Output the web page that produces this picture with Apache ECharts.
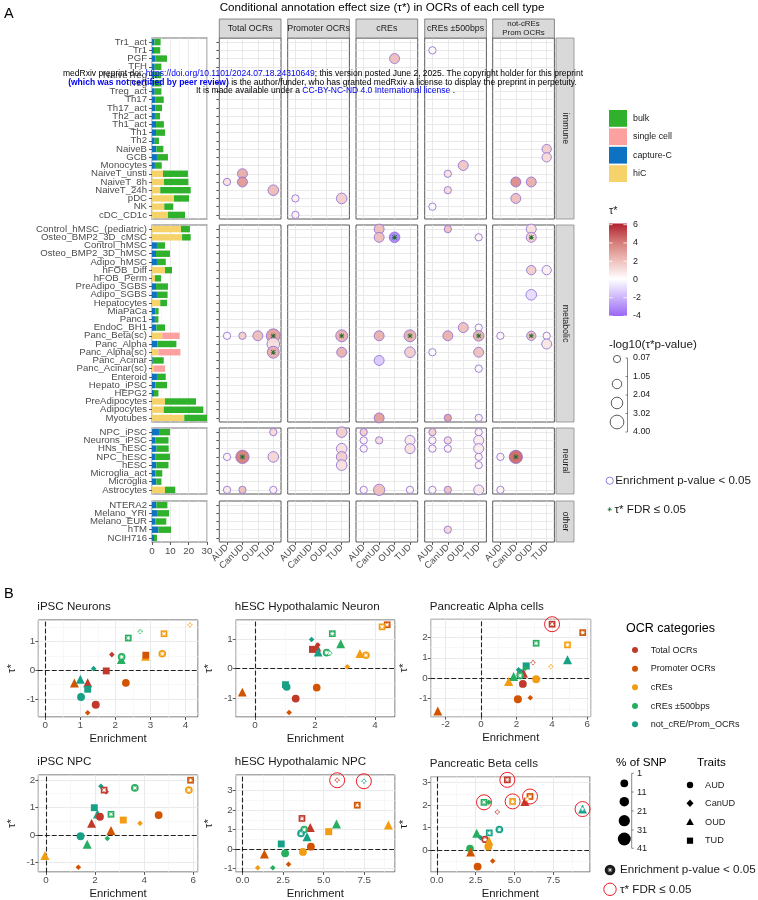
<!DOCTYPE html>
<html lang="en">
<head>
<meta charset="UTF-8">
<title>Conditional annotation effect size in OCRs</title>
<script src="https://cdn.jsdelivr.net/npm/echarts@6/dist/echarts.min.js"></script>
<style>
  html, body { margin: 0; padding: 0; background: #fff; }
  #main { width: 758px; height: 900px; }
</style>
</head>
<body>
<div id="main"></div>
<script>
var FONT = '"Liberation Sans", Arial, Helvetica, sans-serif';
var traits = ['AUD', 'CanUD', 'OUD', 'TUD'];

// ---- panel A: cell types, one list per facet ----
var immuneCells = ['Tr1_act', 'Tr1', 'PGF', 'TFH', 'NaiveTreg', 'Treg', 'Treg_act', 'Th17', 'Th17_act',
  'Th2_act', 'Th1_act', 'Th1', 'Th2', 'NaiveB', 'GCB', 'Monocytes', 'NaiveT_unsti', 'NaiveT_8h',
  'NaiveT_24h', 'pDC', 'NK', 'cDC_CD1c'];
var metabolicCells = ['Control_hMSC_(pediatric)', 'Osteo_BMP2_3D_cMSC', 'Control_hMSC', 'Osteo_BMP2_3D_hMSC',
  'Adipo_hMSC', 'hFOB_Diff', 'hFOB_Perm', 'PreAdipo_SGBS', 'Adipo_SGBS', 'Hepatocytes', 'MiaPaCa', 'Panc1',
  'EndoC_BH1', 'Panc_Beta(sc)', 'Panc_Alpha', 'Panc_Alpha(sc)', 'Panc_Acinar', 'Panc_Acinar(sc)', 'Enteroid',
  'Hepato_iPSC', 'HEPG2', 'PreAdipocytes', 'Adipocytes', 'Myotubes'];
var neuralCells = ['NPC_iPSC', 'Neurons_iPSC', 'HNs_hESC', 'NPC_hESC', 'hESC', 'Microglia_act', 'Microglia', 'Astrocytes'];
var otherCells = ['NTERA2', 'Melano_YRI', 'Melano_EUR', 'hTM', 'NCIH716'];

// bar lengths per data source, same row order as the lists above (immune / metabolic / neural / other)
var hicLen = [0, 0, 0, 0, 0, 0, 0, 0, 0, 0, 0, 0, 0, 0, 0, 0, 6.0, 6.5, 4.5, 12.0, 6.7, 8.7,
  15.8, 16.4, 0, 0, 0, 7.1, 1.6, 0, 0, 4.5, 0, 0, 0, 5.6, 0, 3.5, 0, 0.9, 0, 0, 0, 7.1, 6.4, 17.6,
  0, 0, 0, 0, 0, 0, 0, 7.1,
  0, 0, 0, 0, 0];
var captureLen = [1.3, 1.1, 1.8, 1.5, 1.2, 1.3, 1.5, 2.0, 1.8, 1.6, 2.2, 2.2, 1.5, 2.4, 2.7, 1.6, 0, 0, 0, 0, 0, 0,
  0, 0, 2.7, 2.2, 2.7, 0, 0, 2.2, 2.7, 0, 1.8, 1.6, 2.4, 0, 2.9, 0, 0.4, 0, 2.7, 1.8, 1.1, 0, 0, 0,
  3.8, 2.0, 2.5, 2.0, 2.4, 1.8, 2.4, 0,
  2.4, 2.7, 1.8, 3.5, 1.1];
var singleLen = [0, 0, 0, 0, 0, 0, 0, 0, 0, 0, 0, 0, 0, 0, 0, 0, 0, 0, 0, 0, 0, 0,
  0, 0, 0, 0, 0, 0, 0, 0, 0, 0, 0, 0, 0, 9.5, 0, 12.0, 0, 6.2, 0, 0, 0, 0, 0, 0,
  0, 0, 0, 0, 0, 0, 0, 0,
  0, 0, 0, 0, 0];
var bulkLen = [3.4, 3.4, 6.4, 3.6, 3.8, 3.8, 3.6, 4.4, 3.7, 2.8, 4.3, 4.9, 2.3, 3.8, 6.0, 3.7, 13.6, 13.3, 16.6, 8.2, 4.9, 9.3,
  4.9, 4.7, 4.4, 7.6, 4.8, 3.8, 3.3, 6.5, 5.8, 3.7, 1.8, 1.9, 4.7, 0, 10.4, 0, 6.0, 0, 4.8, 6.4, 2.4, 16.9, 21.6, 12.4,
  6.0, 7.0, 6.6, 7.8, 6.6, 3.8, 2.7, 5.6,
  6.0, 6.6, 6.0, 6.9, 1.6];

// bubbles: [trait, cell type, tau*, -log10(tau* p), FDR<=0.05]
var bubTotal = [
  ['AUD', 'NaiveT_8h', 1.0, 0.6, 0], ['CanUD', 'NaiveT_unsti', 2.6, 1.8, 0], ['CanUD', 'NaiveT_8h', 3.2, 1.8, 0],
  ['TUD', 'NaiveT_24h', 2.2, 2.1, 0], ['AUD', 'Panc_Beta(sc)', 0.3, 0.6, 0], ['CanUD', 'Panc_Beta(sc)', 1.6, 0.6, 0],
  ['OUD', 'Panc_Beta(sc)', 2.1, 1.8, 0], ['TUD', 'Panc_Beta(sc)', 3.0, 3.6, 1], ['TUD', 'Panc_Alpha', 1.0, 3.0, 0],
  ['TUD', 'Panc_Alpha(sc)', 2.6, 2.7, 1], ['TUD', 'NPC_iPSC', 1.2, 0.6, 0], ['AUD', 'NPC_hESC', 0.4, 0.6, 0],
  ['CanUD', 'NPC_hESC', 4.0, 3.3, 1], ['TUD', 'NPC_hESC', 1.3, 2.1, 0], ['AUD', 'Astrocytes', 0.7, 0.6, 0],
  ['CanUD', 'Astrocytes', 2.0, 0.6, 0], ['TUD', 'Astrocytes', 0.5, 0.6, 0]
];
var bubPromoter = [
  ['AUD', 'pDC', 0.5, 0.6, 0], ['AUD', 'cDC_CD1c', 0.5, 0.6, 0], ['TUD', 'pDC', 1.6, 2.1, 0],
  ['TUD', 'Panc_Beta(sc)', 2.5, 2.7, 1], ['TUD', 'Panc_Alpha(sc)', 2.5, 1.8, 0], ['TUD', 'NPC_iPSC', 1.6, 2.1, 0],
  ['TUD', 'HNs_hESC', 1.0, 2.1, 0], ['TUD', 'NPC_hESC', 1.6, 2.1, 0], ['TUD', 'hESC', 1.0, 2.1, 0]
];
var bubCREs = [
  ['OUD', 'PGF', 2.1, 1.8, 0], ['CanUD', 'Control_hMSC_(pediatric)', 2.1, 1.8, 0], ['CanUD', 'Osteo_BMP2_3D_cMSC', 2.1, 1.8, 0],
  ['OUD', 'Osteo_BMP2_3D_cMSC', -3.4, 2.1, 1], ['CanUD', 'Panc_Beta(sc)', 2.5, 1.8, 0], ['TUD', 'Panc_Beta(sc)', 2.5, 2.7, 1],
  ['TUD', 'Panc_Alpha(sc)', 1.6, 2.1, 0], ['CanUD', 'Panc_Acinar', -1.5, 1.8, 0], ['CanUD', 'Myotubes', 3.0, 1.8, 0],
  ['AUD', 'NPC_iPSC', 1.6, 0.6, 0], ['AUD', 'Neurons_iPSC', 0.4, 0.6, 0], ['AUD', 'HNs_hESC', 0.4, 0.6, 0],
  ['CanUD', 'Neurons_iPSC', 1.2, 0.6, 0], ['TUD', 'Neurons_iPSC', 0.7, 1.8, 0], ['TUD', 'HNs_hESC', 1.0, 1.8, 0],
  ['AUD', 'Astrocytes', 0.4, 0.6, 0], ['CanUD', 'Astrocytes', 2.1, 2.4, 0], ['TUD', 'Astrocytes', 0.4, 0.6, 0]
];
var bubCREs500 = [
  ['AUD', 'Tr1', 0.3, 0.6, 0], ['OUD', 'Monocytes', 1.8, 1.8, 0], ['CanUD', 'NaiveT_unsti', 1.0, 0.6, 0],
  ['CanUD', 'NaiveT_24h', 1.2, 0.6, 0], ['AUD', 'NK', 0.3, 0.6, 0], ['CanUD', 'Control_hMSC_(pediatric)', 2.0, 0.6, 0],
  ['TUD', 'Osteo_BMP2_3D_cMSC', 0.4, 0.6, 0], ['OUD', 'EndoC_BH1', 2.0, 1.8, 0], ['TUD', 'EndoC_BH1', 0.3, 0.6, 0],
  ['CanUD', 'Panc_Beta(sc)', 2.5, 1.8, 0], ['TUD', 'Panc_Beta(sc)', 2.5, 2.1, 1], ['AUD', 'Panc_Alpha(sc)', 0.2, 0.6, 0],
  ['TUD', 'Panc_Alpha(sc)', 2.0, 1.8, 0], ['TUD', 'Panc_Acinar(sc)', 0.3, 0.6, 0], ['CanUD', 'Myotubes', 3.0, 0.6, 0],
  ['TUD', 'Myotubes', 0.5, 0.6, 0], ['AUD', 'NPC_iPSC', 1.6, 0.6, 0], ['AUD', 'Neurons_iPSC', 0.4, 0.6, 0],
  ['AUD', 'HNs_hESC', 0.4, 0.6, 0], ['CanUD', 'Neurons_iPSC', 1.2, 0.6, 0], ['CanUD', 'HNs_hESC', 0.5, 0.6, 0],
  ['TUD', 'NPC_iPSC', 0.4, 0.6, 0], ['TUD', 'Neurons_iPSC', 0.6, 1.8, 0], ['TUD', 'HNs_hESC', 0.6, 1.8, 0],
  ['TUD', 'NPC_hESC', 0.4, 0.6, 0], ['TUD', 'hESC', 0.4, 0.6, 0], ['AUD', 'Astrocytes', 0.3, 0.6, 0],
  ['CanUD', 'Astrocytes', 2.0, 0.6, 0], ['TUD', 'Astrocytes', 0.7, 1.8, 0], ['CanUD', 'hTM', 1.3, 0.6, 0]
];
var bubNotCRE = [
  ['TUD', 'NaiveB', 1.6, 1.5, 0], ['TUD', 'GCB', 1.2, 1.5, 0], ['CanUD', 'NaiveT_8h', 3.6, 1.8, 0],
  ['OUD', 'NaiveT_8h', 2.6, 1.8, 0], ['CanUD', 'pDC', 2.1, 1.8, 0], ['OUD', 'Control_hMSC_(pediatric)', 1.0, 1.8, 0],
  ['OUD', 'Osteo_BMP2_3D_cMSC', 1.5, 1.8, 1], ['OUD', 'hFOB_Diff', 1.6, 1.5, 0], ['TUD', 'hFOB_Diff', 0.5, 1.5, 0],
  ['OUD', 'Adipo_SGBS', -1.0, 2.1, 0], ['AUD', 'Panc_Beta(sc)', 0.3, 0.6, 0], ['OUD', 'Panc_Beta(sc)', 2.0, 1.5, 1],
  ['TUD', 'Panc_Beta(sc)', 0.3, 0.6, 0], ['TUD', 'Panc_Alpha', 0.8, 1.8, 0], ['AUD', 'NPC_hESC', 0.4, 0.6, 0],
  ['CanUD', 'NPC_hESC', 4.5, 3.3, 1], ['AUD', 'Astrocytes', 0.4, 0.6, 0]
];

// ---- panel B: [OCR category, trait, enrichment, tau*, % of SNP, enrichment p<0.05, tau* FDR<=0.05] ----
var ipscNeurons = [
  ['cre', 'CanUD', 4.13, 1.59, 1, 1, 0], ['cre', 'TUD', 3.39, 1.28, 4, 1, 0], ['cre500', 'CanUD', 2.71, 1.36, 1, 1, 0],
  ['cre500', 'TUD', 2.37, 1.13, 4, 1, 0], ['cre', 'AUD', 3.34, 0.58, 5, 1, 0], ['cre', 'OUD', 2.86, 0.49, 5, 0, 0],
  ['prom', 'TUD', 2.87, 0.53, 5, 0, 0], ['total', 'CanUD', 1.90, 0.55, 1, 0, 0], ['cre500', 'OUD', 2.17, 0.38, 5, 0, 0],
  ['cre500', 'AUD', 2.18, 0.47, 5, 1, 0], ['notcre', 'CanUD', 1.38, 0.06, 1, 0, 0], ['total', 'TUD', 1.74, -0.02, 5, 0, 0],
  ['prom', 'AUD', 2.30, -0.44, 5, 0, 0], ['prom', 'OUD', 0.83, -0.44, 6, 0, 0], ['notcre', 'OUD', 1.00, -0.31, 5, 0, 0],
  ['total', 'OUD', 1.21, -0.43, 6, 0, 0], ['notcre', 'TUD', 1.21, -0.66, 5, 0, 0], ['notcre', 'AUD', 1.02, -0.93, 6, 0, 0],
  ['total', 'AUD', 1.44, -1.20, 7, 0, 0], ['prom', 'CanUD', 1.21, -1.48, 1, 0, 0]
];
var hescNeurons = [
  ['prom', 'TUD', 4.41, 1.48, 4, 1, 0], ['cre', 'TUD', 4.24, 1.41, 4, 1, 0], ['cre500', 'TUD', 2.58, 1.18, 4, 1, 0],
  ['notcre', 'CanUD', 1.89, 0.98, 1, 0, 0], ['cre500', 'OUD', 2.86, 0.84, 5, 0, 0], ['total', 'CanUD', 2.10, 0.80, 1, 0, 0],
  ['total', 'OUD', 2.06, 0.73, 7, 0, 0], ['total', 'TUD', 1.92, 0.65, 6, 0, 0], ['notcre', 'OUD', 2.11, 0.56, 5, 0, 0],
  ['cre500', 'AUD', 2.39, 0.54, 5, 1, 0], ['cre500', 'CanUD', 2.50, 0.52, 1, 1, 0], ['cre', 'OUD', 3.50, 0.51, 5, 0, 0],
  ['cre', 'AUD', 3.70, 0.45, 5, 1, 0], ['cre', 'CanUD', 3.08, 0.06, 1, 0, 0], ['prom', 'OUD', -0.42, -0.79, 5, 0, 0],
  ['notcre', 'TUD', 1.02, -0.54, 5, 0, 0], ['notcre', 'AUD', 1.06, -0.62, 5, 0, 0], ['prom', 'AUD', 2.06, -0.64, 5, 0, 0],
  ['total', 'AUD', 1.36, -1.01, 6, 0, 0], ['prom', 'CanUD', 1.14, -1.48, 1, 0, 0]
];
var pancAlpha = [
  ['total', 'TUD', 4.01, 2.64, 4, 1, 1], ['prom', 'TUD', 5.74, 2.23, 4, 1, 0], ['cre500', 'TUD', 3.11, 1.71, 4, 1, 0],
  ['cre', 'TUD', 4.88, 1.63, 4, 1, 0], ['notcre', 'OUD', 4.88, 0.90, 6, 0, 0], ['total', 'CanUD', 2.93, 0.77, 1, 1, 0],
  ['cre', 'CanUD', 3.94, 0.57, 1, 1, 0], ['notcre', 'TUD', 2.55, 0.60, 6, 0, 0], ['cre500', 'CanUD', 2.50, 0.49, 1, 0, 0],
  ['notcre', 'CanUD', 2.12, 0.41, 1, 0, 0], ['notcre', 'AUD', 2.25, 0.25, 5, 0, 0], ['total', 'OUD', 2.40, 0.24, 6, 0, 0],
  ['cre500', 'AUD', 2.21, 0.13, 5, 1, 0], ['cre500', 'OUD', 1.84, 0.08, 6, 0, 0], ['cre', 'OUD', 1.56, -0.16, 7, 0, 0],
  ['total', 'AUD', 2.36, -0.28, 6, 0, 0], ['cre', 'AUD', 3.11, -0.05, 6, 0, 0], ['prom', 'AUD', 2.08, -1.03, 7, 0, 0],
  ['prom', 'CanUD', 2.78, -0.95, 1, 0, 0], ['prom', 'OUD', -2.44, -1.60, 6, 0, 0]
];
var ipscNPC = [
  ['prom', 'TUD', 5.89, 1.99, 4, 1, 0], ['cre', 'AUD', 5.82, 1.63, 5, 1, 0], ['notcre', 'CanUD', 2.24, 1.77, 1, 0, 0],
  ['total', 'TUD', 2.37, 1.63, 4, 1, 0], ['total', 'CanUD', 2.45, 1.57, 1, 0, 0], ['cre500', 'AUD', 3.62, 1.71, 5, 1, 0],
  ['notcre', 'TUD', 1.97, 0.99, 5, 0, 0], ['notcre', 'OUD', 2.10, 0.76, 6, 0, 0], ['total', 'AUD', 2.20, 0.66, 6, 0, 0],
  ['cre500', 'TUD', 2.65, 0.75, 4, 1, 0], ['cre', 'TUD', 3.15, 0.54, 5, 0, 0], ['prom', 'AUD', 4.59, 0.72, 6, 0, 0],
  ['cre', 'CanUD', 3.83, 0.42, 1, 0, 0], ['total', 'OUD', 1.86, 0.42, 6, 0, 0], ['prom', 'OUD', 2.65, 0.16, 6, 0, 0],
  ['notcre', 'AUD', 1.41, -0.05, 6, 0, 0], ['cre500', 'CanUD', 2.50, -0.13, 1, 0, 0], ['cre500', 'OUD', 1.68, -0.34, 6, 0, 0],
  ['cre', 'OUD', -0.04, -0.75, 6, 0, 0], ['prom', 'CanUD', 1.32, -1.18, 1, 0, 0]
];
var hescNPC = [
  ['total', 'CanUD', 5.83, 3.53, 1, 1, 1], ['notcre', 'CanUD', 7.48, 3.48, 1, 1, 1], ['prom', 'TUD', 7.07, 2.25, 4, 1, 0],
  ['total', 'TUD', 3.66, 1.57, 4, 1, 0], ['cre500', 'OUD', 5.79, 1.28, 6, 0, 0], ['cre', 'OUD', 8.99, 1.23, 6, 0, 0],
  ['total', 'OUD', 4.17, 1.11, 6, 0, 0], ['cre500', 'AUD', 3.80, 1.00, 5, 1, 0], ['notcre', 'AUD', 3.60, 0.80, 5, 1, 0],
  ['notcre', 'OUD', 3.97, 0.63, 6, 0, 0], ['cre', 'TUD', 5.31, 0.89, 6, 0, 0], ['notcre', 'TUD', 2.38, 0.26, 5, 0, 0],
  ['prom', 'AUD', 4.21, 0.12, 6, 0, 0], ['cre', 'AUD', 3.72, -0.15, 6, 0, 0], ['cre500', 'AUD', 2.62, -0.22, 6, 0, 0],
  ['prom', 'OUD', 1.34, -0.26, 6, 0, 0], ['cre', 'CanUD', 0.93, -0.96, 1, 0, 0], ['cre500', 'CanUD', 1.86, -0.96, 1, 0, 0],
  ['prom', 'CanUD', 2.83, -0.78, 1, 0, 0]
];
var pancBeta = [
  ['total', 'TUD', 4.54, 3.12, 4, 1, 1], ['cre', 'TUD', 4.88, 2.16, 4, 1, 1], ['total', 'OUD', 5.67, 2.16, 6, 0, 0],
  ['prom', 'TUD', 6.00, 2.38, 4, 1, 1], ['cre', 'CanUD', 5.82, 2.26, 1, 1, 0], ['cre500', 'CanUD', 3.35, 2.12, 1, 0, 0],
  ['cre500', 'TUD', 3.04, 2.12, 4, 1, 1], ['notcre', 'OUD', 9.38, 1.82, 6, 1, 1], ['total', 'CanUD', 3.90, 1.69, 1, 1, 0],
  ['notcre', 'AUD', 4.03, 0.91, 5, 1, 0], ['notcre', 'TUD', 3.38, 0.76, 4, 1, 0], ['cre500', 'OUD', 2.57, 0.74, 6, 0, 0],
  ['notcre', 'CanUD', 2.83, 0.54, 1, 0, 0], ['total', 'AUD', 3.10, 0.47, 3, 1, 0], ['cre', 'OUD', 3.36, 0.40, 6, 0, 0],
  ['cre', 'AUD', 3.32, 0.15, 6, 0, 0], ['cre500', 'AUD', 2.14, 0.06, 5, 0, 0], ['prom', 'OUD', 2.18, -0.09, 6, 0, 0],
  ['prom', 'AUD', 2.63, -0.74, 6, 0, 0], ['prom', 'CanUD', 3.60, -0.49, 1, 0, 0]
];

var ocrNames = { total: 'Total OCRs', prom: 'Promoter OCRs', cre: 'cREs', cre500: 'cREs \u00b1500bps', notcre: 'not_cRE/Prom_OCRs' };
var ocrColors = { total: '#c0392b', prom: '#d35400', cre: '#f39c12', cre500: '#27ae60', notcre: '#16a085' };
var traitSymbol = { AUD: 'circle', CanUD: 'diamond', OUD: 'triangle', TUD: 'rect' };
var traitScale = { AUD: 1, CanUD: 0.8, OUD: 1.15, TUD: 0.9 };
var tauColors = ['#9a66f5', '#ccb5fa', '#ffffff', '#eebfbb', '#d57b77', '#b2222e']; // -4 .. 6

var ASTERISK = 'path://M4.3,0h1.4v10h-1.4z M0,4.3h10v1.4h-10z M1.2,0.2L9.8,8.8L8.8,9.8L0.2,1.2z M8.8,0.2L9.8,1.2L1.2,9.8L0.2,8.8z';

// ---- layout ----
var facets = [immuneCells, metabolicCells, neuralCells, otherCells];
var facetNames = ['immune', 'metabolic', 'neural', 'other'];
var facetTop = [38, 225, 428, 501];
var facetH = [181, 197, 66, 41];
var barLeft = 152, barW = 55;
var colLeft = [219.3, 287.7, 356, 424.7, 492.7], colW = 61.7;
var columns = ['Total OCRs', 'Promoter OCRs', 'cREs', 'cREs \u00b1500bps', 'not-cREs\nProm OCRs'];
var bubbleSets = [bubTotal, bubPromoter, bubCREs, bubCREs500, bubNotCRE];
var sources = [
  { name: 'hiC', color: '#f6d36a', values: hicLen },
  { name: 'capture-C', color: '#0c72c1', values: captureLen },
  { name: 'single cell', color: '#fda0a0', values: singleLen },
  { name: 'bulk', color: '#2fb12b', values: bulkLen }
];

var grids = [], xAxes = [], yAxes = [], series = [], graphics = [], bubbleIdx = [];

function range(n) { var a = []; for (var i = 0; i < n; i++) a.push(i); return a; }
function isMult(v, step) { var r = v / step; return Math.abs(r - Math.round(r)) < 1e-6; }
function majorsOf(ext, step) {
  var a = [], k0 = Math.ceil(ext[0] / step - 1e-9), k1 = Math.floor(ext[1] / step + 1e-9);
  for (var k = k0; k <= k1; k++) a.push(+(k * step).toFixed(6));
  return a;
}
function addGrid(l, t, w, h, border, bw) {
  grids.push({ left: l, top: t, width: w, height: h, show: true, backgroundColor: '#fff',
    borderColor: border, borderWidth: bw, containLabel: false });
  return grids.length - 1;
}
var GRIDC = '#e3e3e3';

// ---- panel A ----
var rowOffset = 0;
facets.forEach(function (cells, f) {
  var last = f === facets.length - 1;
  var n = cells.length;

  // stacked bars
  var g = addGrid(barLeft, facetTop[f], barW, facetH[f], '#a3a3a3', 1.3);
  xAxes.push({ gridIndex: g, type: 'value', position: 'bottom', min: 0, max: 30, interval: 10,
    axisLine: { show: false, onZero: false },
    axisTick: { show: last, length: 3, lineStyle: { color: '#333', width: 0.8 } },
    axisLabel: { show: last, fontSize: 9.8, color: '#4d4d4d', fontFamily: FONT, margin: 4 },
    splitLine: { show: true, lineStyle: { color: GRIDC, width: 0.8 } },
    minorTick: { show: false, splitNumber: 2 },
    minorSplitLine: { show: true, lineStyle: { color: '#f2f2f2', width: 0.6 } } });
  var bx = xAxes.length - 1;
  yAxes.push({ gridIndex: g, type: 'category', position: 'left', data: cells, inverse: true,
    axisLine: { show: false, onZero: false },
    axisTick: { show: true, alignWithLabel: true, interval: 0, length: 3, lineStyle: { color: '#333', width: 0.8 } },
    axisLabel: { interval: 0, fontSize: 9.6, color: '#4d4d4d', fontFamily: FONT, margin: 5 },
    splitLine: { show: false } });
  var by = yAxes.length - 1;
  sources.forEach(function (s) {
    series.push({ type: 'bar', name: s.name, xAxisIndex: bx, yAxisIndex: by, stack: 'src' + f,
      barWidth: '78%', silent: true, z: 2, itemStyle: { color: s.color },
      data: s.values.slice(rowOffset, rowOffset + n) });
  });

  // bubble panels
  columns.forEach(function (col, c) {
    var g2 = addGrid(colLeft[c], facetTop[f], colW, facetH[f], '#595959', 1);
    xAxes.push({ gridIndex: g2, type: 'value', position: 'bottom', min: -0.5, max: 3.5, splitNumber: 4,
      minInterval: 1, maxInterval: 1,
      axisLine: { show: false, onZero: false },
      axisTick: { show: last, length: 3, customValues: [0, 1, 2, 3], lineStyle: { color: '#333', width: 0.8 } },
      axisLabel: { show: last, customValues: [0, 1, 2, 3], rotate: 45, margin: 4, fontSize: 9.3,
        color: '#4d4d4d', fontFamily: FONT,
        formatter: function (v) { var i = Math.round(v); return Math.abs(v - i) < 1e-6 && traits[i] ? traits[i] : ''; } },
      splitLine: { show: true, lineStyle: { color: GRIDC, width: 0.8 } } });
    var x2 = xAxes.length - 1;
    yAxes.push({ gridIndex: g2, type: 'value', position: 'left', inverse: true, min: -0.5, max: n - 0.5,
      splitNumber: n, minInterval: 1, maxInterval: 1,
      axisLine: { show: false, onZero: false },
      axisTick: { show: c === 0, length: 3, customValues: range(n), lineStyle: { color: '#333', width: 0.8 } },
      axisLabel: { show: false },
      splitLine: { show: true, lineStyle: { color: GRIDC, width: 0.8 } } });
    var y2 = yAxes.length - 1;
    var pts = bubbleSets[c].filter(function (b) { return cells.indexOf(b[1]) >= 0; });
    series.push({ type: 'scatter', xAxisIndex: x2, yAxisIndex: y2, z: 3, silent: true,
      data: pts.map(function (b) { return [traits.indexOf(b[0]), cells.indexOf(b[1]), b[2], b[3]]; }),
      symbolSize: function (v) { return 6 + 2.2 * v[3]; },
      itemStyle: { borderColor: '#8d6fd6', borderWidth: 0.9, opacity: 0.92 } });
    bubbleIdx.push(series.length - 1);
    series.push({ type: 'scatter', xAxisIndex: x2, yAxisIndex: y2, z: 4, silent: true,
      symbol: ASTERISK, symbolSize: 5, itemStyle: { color: '#1d6b34', opacity: 1 },
      data: pts.filter(function (b) { return b[4] === 1; })
        .map(function (b) { return [traits.indexOf(b[0]), cells.indexOf(b[1])]; }) });
  });
  rowOffset += n;
});

// ---- panel B ----
var bPanels = [
  { title: 'iPSC Neurons', pts: ipscNeurons, box: [38.3, 620, 159.7, 97], x: [-0.2, 4.36], xs: 1, dec: 0, y: [-1.63, 1.76] },
  { title: 'hESC Hypothalamic Neuron', pts: hescNeurons, box: [235.7, 620, 159.3, 97], x: [-0.64, 4.67], xs: 2, dec: 0, y: [-1.63, 1.64] },
  { title: 'Pancreatic Alpha cells', pts: pancAlpha, box: [430.7, 619.3, 160, 97.4], x: [-2.84, 6.19], xs: 2, dec: 0, y: [-1.88, 2.88] },
  { title: 'iPSC NPC', pts: ipscNPC, box: [38.3, 775, 159.4, 97.3], x: [-0.31, 6.18], xs: 2, dec: 0, y: [-1.35, 2.18] },
  { title: 'hESC Hypothalamic NPC', pts: hescNPC, box: [235.7, 775, 159.3, 97.3], x: [-0.43, 9.4], xs: 2.5, dec: 1, y: [-1.18, 3.8] },
  { title: 'Pancreatic Beta cells', pts: pancBeta, box: [430.7, 776.7, 159.3, 96.6], x: [-0.39, 9.86], xs: 2.5, dec: 1, y: [-0.98, 3.26] }
];

function bAxes(g, dim, ext, step, dec, name, gap) {
  var list = dim === 'x' ? xAxes : yAxes;
  var pos = dim === 'x' ? 'bottom' : 'left';
  var span = ext[1] - ext[0];
  var majors = majorsOf(ext, step);
  // minor lines (every half step, major lines are drawn over them)
  list.push({ gridIndex: g, type: 'value', position: pos, min: ext[0], max: ext[1],
    splitNumber: Math.round(span / (step / 2)), minInterval: step / 2, maxInterval: step / 2,
    axisLine: { show: false, onZero: false }, axisTick: { show: false }, axisLabel: { show: false },
    splitLine: { show: true, lineStyle: { color: '#f3f3f3', width: 0.6 } } });
  list.push({ gridIndex: g, type: 'value', position: pos, min: ext[0], max: ext[1],
    splitNumber: Math.round(span / step), minInterval: step, maxInterval: step,
    name: name, nameLocation: 'middle', nameGap: gap,
    nameTextStyle: { fontSize: 11.3, color: '#1a1a1a', fontFamily: FONT },
    axisLine: { show: false, onZero: false },
    axisTick: { show: true, length: 3, customValues: majors, lineStyle: { color: '#333', width: 0.8 } },
    axisLabel: { show: true, customValues: majors, fontSize: 9.8, color: '#4d4d4d', fontFamily: FONT, margin: 3,
      formatter: function (v) { return isMult(v, step) ? v.toFixed(dec) : ''; } },
    splitLine: { show: true, lineStyle: { color: '#e6e6e6', width: 0.8 } } });
  var main = list.length - 1;
  // dashed reference line at zero of the other axis
  list.push({ gridIndex: g, type: 'value', position: pos, min: ext[0], max: ext[1], z: 1,
    axisLine: { show: true, onZero: true, lineStyle: { color: '#222', width: 1.1, type: [4, 3] } },
    axisTick: { show: false }, axisLabel: { show: false }, splitLine: { show: false } });
  return main;
}
function ptSize(trait, pct) { return (6.8 + 0.17 * pct) * traitScale[trait]; }

bPanels.forEach(function (p) {
  var g = addGrid(p.box[0], p.box[1], p.box[2], p.box[3], '#595959', 1);
  var xi = bAxes(g, 'x', p.x, p.xs, p.dec, 'Enrichment', 16);
  var yi = bAxes(g, 'y', p.y, 1, 0, '\u03c4*', 21);
  series.push({ type: 'scatter', xAxisIndex: xi, yAxisIndex: yi, z: 3, silent: true,
    data: p.pts.map(function (d) {
      return { value: [d[2], d[3], d[4]], symbol: traitSymbol[d[1]], symbolSize: ptSize(d[1], d[4]),
        itemStyle: { color: ocrColors[d[0]], opacity: 1 } };
    }) });
  series.push({ type: 'scatter', xAxisIndex: xi, yAxisIndex: yi, z: 4, silent: true,
    symbol: ASTERISK, symbolSize: 4.2, itemStyle: { color: '#fff', opacity: 1 },
    data: p.pts.filter(function (d) { return d[5] === 1; }).map(function (d) { return [d[2], d[3]]; }) });
  series.push({ type: 'scatter', xAxisIndex: xi, yAxisIndex: yi, z: 5, silent: true,
    symbol: 'circle', symbolSize: 15,
    itemStyle: { color: 'rgba(0,0,0,0)', borderColor: '#ee1c25', borderWidth: 1, opacity: 1 },
    data: p.pts.filter(function (d) { return d[6] === 1; }).map(function (d) { return [d[2], d[3]]; }) });
  graphics.push(txt(p.box[0] - 1, p.box[1] - 13, p.title, 11.6, {}));
});

// ---- graphic helpers ----
function txt(x, y, s, size, o) {
  var st = { text: s, fontSize: size, fontFamily: FONT, fill: o.fill || '#1a1a1a',
    align: o.align || 'left', verticalAlign: 'middle', textAlign: o.align || 'left', textVerticalAlign: 'middle' };
  if (o.lineHeight) st.lineHeight = o.lineHeight;
  if (o.rich) st.rich = o.rich;
  return { type: 'text', x: x, y: y, rotation: o.rotation || 0, silent: true, z: o.z || 10, style: st };
}
function rect(x, y, w, h, fill, stroke, lw) {
  return { type: 'rect', silent: true, z: 10, shape: { x: x, y: y, width: w, height: h },
    style: { fill: fill, stroke: stroke || null, lineWidth: lw || 0 } };
}
function circ(cx, cy, r, fill, stroke, lw) {
  return { type: 'circle', silent: true, z: 10, shape: { cx: cx, cy: cy, r: r },
    style: { fill: fill, stroke: stroke || null, lineWidth: lw || 0 } };
}
function seg(x1, y1, x2, y2, stroke, lw) {
  return { type: 'line', silent: true, z: 11, shape: { x1: x1, y1: y1, x2: x2, y2: y2 },
    style: { stroke: stroke, lineWidth: lw } };
}
function star(cx, cy, s, color) {
  var a = s / 2, w = s * 0.14, d = a * 0.86;
  return [
    { type: 'rect', silent: true, z: 12, shape: { x: cx - w / 2, y: cy - a, width: w, height: s }, style: { fill: color } },
    { type: 'rect', silent: true, z: 12, shape: { x: cx - a, y: cy - w / 2, width: s, height: w }, style: { fill: color } },
    seg(cx - d * 0.8, cy - d * 0.8, cx + d * 0.8, cy + d * 0.8, color, w),
    seg(cx + d * 0.8, cy - d * 0.8, cx - d * 0.8, cy + d * 0.8, color, w)
  ];
}

// titles and panel letters
graphics.push(txt(382, 7.5, 'Conditional annotation effect size (\u03c4*) in OCRs of each cell type', 11.6, { align: 'center', fill: '#000' }));
graphics.push(txt(4, 14, 'A', 14.5, { fill: '#000' }));
graphics.push(txt(4, 594, 'B', 14.5, { fill: '#000' }));

// column strips
columns.forEach(function (col, c) {
  graphics.push(rect(colLeft[c], 19, colW, 19, '#d9d9d9', '#6e6e6e', 0.8));
  var two = col.indexOf('\n') >= 0;
  graphics.push(txt(colLeft[c] + colW / 2, 28.8, col, two ? 7.9 : 8.8,
    { align: 'center', lineHeight: 9, fill: '#1a1a1a' }));
});
// facet strips
facetNames.forEach(function (nm, f) {
  graphics.push(rect(556, facetTop[f], 18, facetH[f], '#d9d9d9', '#8a8a8a', 0.8));
  graphics.push(txt(565, facetTop[f] + facetH[f] / 2, nm, 8.8, { align: 'center', rotation: -Math.PI / 2 }));
});

// data source legend
['bulk', 'single cell', 'capture-C', 'hiC'].forEach(function (nm, i) {
  var s = sources.filter(function (q) { return q.name === nm; })[0];
  graphics.push(rect(609, 110 + i * 18.4, 18, 16.8, s.color));
  graphics.push(txt(633, 118.4 + i * 18.4, nm, 8.9, {}));
});

// tau* colour bar
graphics.push(txt(609, 211.5, '\u03c4*', 10.8, {}));
graphics.push({ type: 'rect', silent: true, z: 10, shape: { x: 609, y: 223.5, width: 18, height: 92.5 },
  style: { fill: new echarts.graphic.LinearGradient(0, 0, 0, 1, tauColors.slice().reverse().map(function (c, i) {
    return { offset: i / (tauColors.length - 1), color: c };
  })) } });
[6, 4, 2, 0, -2, -4].forEach(function (v) {
  var yy = 224.7 + (6 - v) / 10 * 91.3;
  graphics.push(txt(633, yy, String(v), 8.9, {}));
  graphics.push(seg(609, yy, 612.6, yy, '#fff', 0.8));
  graphics.push(seg(623.4, yy, 627, yy, '#fff', 0.8));
});

// -log10 p size legend
graphics.push(txt(609, 345, '-log10(\u03c4*p-value)', 11.7, {}));
[0.56, 1.55, 2.53, 3.51].forEach(function (v, i) {
  graphics.push(circ(617, [359, 384, 403, 422][i], (6 + 2.2 * v) / 2, 'rgba(0,0,0,0)', '#333', 0.8));
});
graphics.push(seg(627.5, 358, 627.5, 432, '#555', 0.7));
['0.07', '1.05', '2.04', '3.02', '4.00'].forEach(function (s, i) {
  var yy = [358, 376.5, 395, 413.5, 432][i];
  graphics.push(seg(625.5, yy, 627.5, yy, '#555', 0.7));
  graphics.push(txt(633, yy, s, 8.9, {}));
});

// enrichment / FDR keys, panel A
graphics.push(circ(609.7, 480.7, 3.6, '#fff', '#8d6fd6', 0.9));
graphics.push(txt(615.3, 480.7, 'Enrichment p-value < 0.05', 11.6, {}));
star(609.7, 509.3, 4.4, '#1d6b34').forEach(function (e) { graphics.push(e); });
graphics.push(txt(614.5, 509.3, '\u03c4* FDR \u2264 0.05', 11.6, {}));

// OCR categories legend
graphics.push(txt(626, 629, 'OCR categories', 12.5, { fill: '#000' }));
['total', 'prom', 'cre', 'cre500', 'notcre'].forEach(function (k, i) {
  var yy = [650, 668.7, 687.3, 706, 724.3][i];
  graphics.push(circ(635, yy, 3, ocrColors[k]));
  graphics.push(txt(650.7, yy, ocrNames[k], 9.1, {}));
});

// % of SNP legend
graphics.push(txt(616, 762.7, '% of SNP', 11.7, { fill: '#000' }));
[6, 16, 26, 36].forEach(function (p, i) {
  graphics.push(circ(624.3, [783.3, 801.7, 820.7, 839][i], (6.8 + 0.17 * p) / 2, '#000'));
});
graphics.push(seg(631.7, 773.3, 631.7, 848.3, '#555', 0.7));
['1', '11', '21', '31', '41'].forEach(function (s, i) {
  var yy = [773.3, 792, 811, 830, 848.3][i];
  graphics.push(seg(631.7, yy, 633.7, yy, '#555', 0.7));
  graphics.push(txt(637, yy, s, 9.2, {}));
});

// traits legend
graphics.push(txt(697, 762.7, 'Traits', 11.7, { fill: '#000' }));
graphics.push(circ(690, 785, 3.2, '#000'));
graphics.push({ type: 'polygon', silent: true, z: 10, shape: { points: [[690, 799.5], [693.5, 803.3], [690, 807.1], [686.5, 803.3]] }, style: { fill: '#000' } });
graphics.push({ type: 'polygon', silent: true, z: 10, shape: { points: [[690, 818.3], [693.8, 825], [686.2, 825]] }, style: { fill: '#000' } });
graphics.push(rect(686.9, 837.6, 6.2, 6.2, '#000'));
['AUD', 'CanUD', 'OUD', 'TUD'].forEach(function (s, i) {
  graphics.push(txt(705, [785, 803.3, 822.3, 840.7][i], s, 9.2, {}));
});

// enrichment / FDR keys, panel B
graphics.push(circ(610, 870, 5.3, '#1a1a1a'));
star(610, 870, 4.6, '#fff').forEach(function (e) { graphics.push(e); });
graphics.push(txt(620, 870, 'Enrichment p-value < 0.05', 11.6, {}));
graphics.push(circ(610, 889.3, 6.2, 'rgba(0,0,0,0)', '#ee1c25', 1));
graphics.push(txt(620, 889.3, '\u03c4* FDR \u2264 0.05', 11.6, {}));

// preprint notice overlay
var WM = 8.5;
var wmRich = {
  k: { fill: '#000', color: '#000', fontSize: WM, fontFamily: FONT },
  u: { fill: '#0000ee', color: '#0000ee', fontSize: WM, fontFamily: FONT },
  ub: { fill: '#0000ee', color: '#0000ee', fontSize: WM, fontWeight: 'bold', fontFamily: FONT }
};
graphics.push(txt(323, 74, '{k|medRxiv preprint doi: }{u|https://doi.org/10.1101/2024.07.18.24310649}{k|; this version posted June 2, 2025. The copyright holder for this preprint}', WM, { align: 'center', rich: wmRich, z: 30 }));
graphics.push(txt(322.5, 82.3, '{ub|(which was not certified by peer review)}{k| is the author/funder, who has granted medRxiv a license to display the preprint in perpetuity.}', WM, { align: 'center', rich: wmRich, z: 30 }));
graphics.push(txt(325.5, 90.7, '{k|It is made available under a }{u|CC-BY-NC-ND 4.0 International license}{k| .}', WM, { align: 'center', rich: wmRich, z: 30 }));

var chart = echarts.init(document.getElementById('main'));
chart.setOption({
  animation: false,
  backgroundColor: '#fff',
  textStyle: { fontFamily: FONT },
  grid: grids,
  xAxis: xAxes,
  yAxis: yAxes,
  visualMap: [{ type: 'continuous', show: false, min: -4, max: 6, dimension: 2,
    seriesIndex: bubbleIdx, inRange: { color: tauColors } }],
  series: series,
  graphic: { elements: graphics }
});
</script>
</body>
</html>
